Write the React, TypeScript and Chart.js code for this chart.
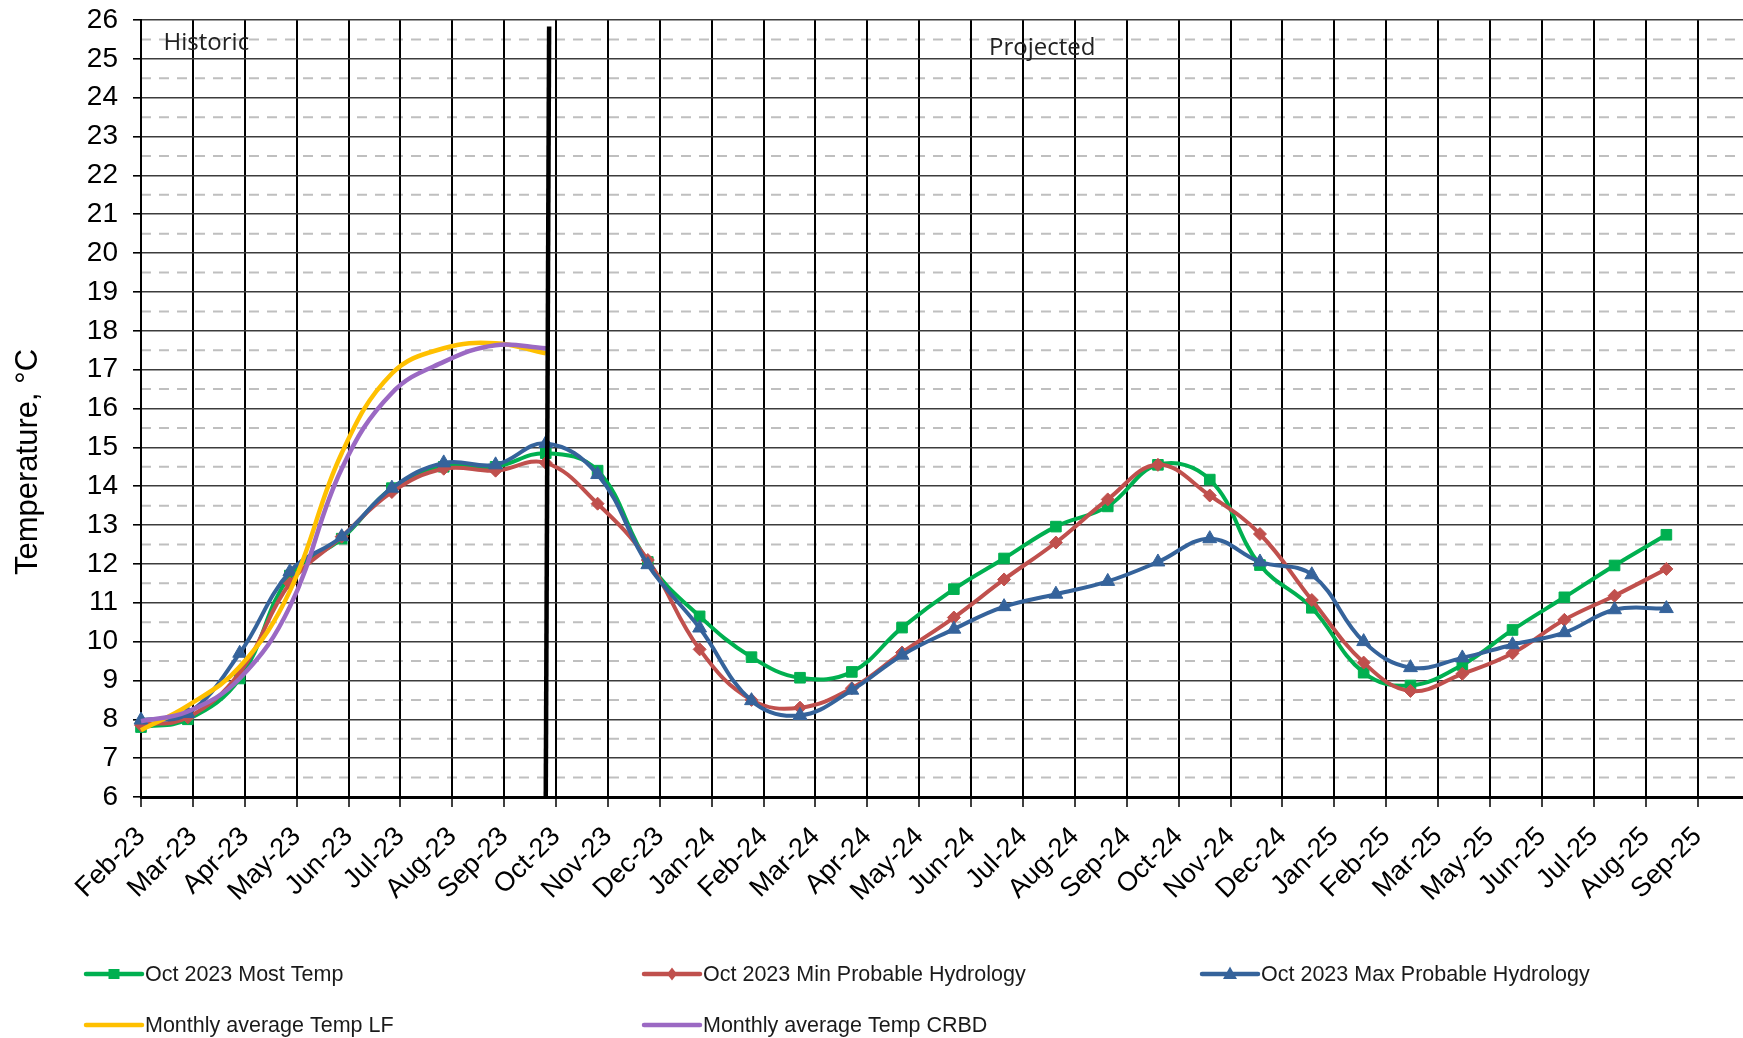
import React, { useEffect, useRef } from 'react';
import { Chart, registerables } from 'chart.js';

Chart.register(...registerables);

// ---------- data ----------
const tickLabels = [
  'Feb-23', 'Mar-23', 'Apr-23', 'May-23', 'Jun-23', 'Jul-23', 'Aug-23', 'Sep-23', 'Oct-23', 'Nov-23',
  'Dec-23', 'Jan-24', 'Feb-24', 'Mar-24', 'Apr-24', 'May-24', 'Jun-24', 'Jul-24', 'Aug-24', 'Sep-24',
  'Oct-24', 'Nov-24', 'Dec-24', 'Jan-25', 'Feb-25', 'Mar-25', 'May-25', 'Jun-25', 'Jul-25', 'Aug-25', 'Sep-25',
];

const months = [
  '2023-02', '2023-03', '2023-04', '2023-05', '2023-06', '2023-07', '2023-08', '2023-09', '2023-10', '2023-11',
  '2023-12', '2024-01', '2024-02', '2024-03', '2024-04', '2024-05', '2024-06', '2024-07', '2024-08', '2024-09',
  '2024-10', '2024-11', '2024-12', '2025-01', '2025-02', '2025-03', '2025-04', '2025-05', '2025-06', '2025-07', '2025-08',
];

const mostTemp = [
  7.8, 8.0, 9.05, 11.7, 12.65, 13.95, 14.5, 14.5, 14.85, 14.4,
  12.05, 10.65, 9.6, 9.07, 9.22, 10.36, 11.35, 12.14, 12.96, 13.48,
  14.55, 14.17, 11.97, 10.87, 9.2, 8.87, 9.4, 10.3, 11.14, 11.96, 12.75,
];

const minProbable = [
  7.85, 8.05, 9.2, 11.5, 12.7, 13.85, 14.45, 14.4, 14.6, 13.55,
  12.1, 9.8, 8.5, 8.3, 8.8, 9.72, 10.62, 11.6, 12.55, 13.66,
  14.55, 13.76, 12.77, 11.07, 9.46, 8.73, 9.17, 9.7, 10.56, 11.18, 11.87,
];

const maxProbable = [
  7.98, 8.15, 9.7, 11.8, 12.7, 13.95, 14.6, 14.55, 15.1, 14.3,
  11.98, 10.35, 8.48, 8.1, 8.75, 9.65, 10.32, 10.9, 11.22, 11.55,
  12.05, 12.65, 12.05, 11.72, 10.0, 9.33, 9.58, 9.92, 10.23, 10.82, 10.85,
];

const histMonths = ['2023-02', '2023-03', '2023-04', '2023-05', '2023-06', '2023-07', '2023-08', '2023-09', '2023-10'];
const avgTempLF = [7.72, 8.35, 9.35, 11.3, 14.85, 16.9, 17.55, 17.68, 17.42];
const avgTempCRBD = [7.95, 8.2, 9.05, 10.9, 14.45, 16.4, 17.2, 17.63, 17.55];

// historic / projected divider (date, temperature)
const dividerDates = ['2023-10-03', '2023-10-01'];
const dividerTemps = [25.83, 6];

// ---------- helpers ----------
const START = Date.UTC(2023, 1, 1);
const DAY = 86400000;
const dayOf = (s: string) => {
  const p = s.split('-').map(Number);
  return (Date.UTC(p[0], p[1] - 1, p[2] || 1) - START) / DAY;
};
const TICK_DAYS = 31.02;
const X_MAX = 957.8;

const GREEN = '#00B050';
const RED = '#C0504D';
const BLUE = '#35639B';
const YELLOW = '#FFC000';
const PURPLE = '#9B69C3';

const FONT = "'Liberation Sans', Arial, sans-serif";

const series = (xs: string[], ys: number[]) => ys.map((y, i) => ({ x: dayOf(xs[i]), y }));

const legendCols = [86, 644, 1202];
const legendRows = [974, 1025];

const drawMarker = (ctx: CanvasRenderingContext2D, style: string, x: number, y: number, color: string) => {
  ctx.fillStyle = color;
  ctx.beginPath();
  if (style === 'rect') {
    ctx.rect(x - 5.5, y - 5, 11, 10);
  } else if (style === 'rectRot') {
    ctx.moveTo(x, y - 6.5);
    ctx.lineTo(x + 5, y);
    ctx.lineTo(x, y + 6.5);
    ctx.lineTo(x - 5, y);
    ctx.closePath();
  } else if (style === 'triangle') {
    ctx.moveTo(x, y - 7.5);
    ctx.lineTo(x + 7, y + 5);
    ctx.lineTo(x - 7, y + 5);
    ctx.closePath();
  }
  ctx.fill();
};

const decorPlugin = {
  id: 'decor',
  beforeDraw(chart: any) {
    const { ctx, chartArea, scales } = chart;
    const y = scales.y;
    ctx.save();
    ctx.strokeStyle = '#BFBFBF';
    ctx.lineWidth = 2;
    ctx.setLineDash([10, 8]);
    for (let v = y.min + 0.5; v < y.max; v += 1) {
      const py = y.getPixelForValue(v);
      ctx.beginPath();
      ctx.moveTo(chartArea.left, py);
      ctx.lineTo(chartArea.right, py);
      ctx.stroke();
    }
    ctx.restore();
  },
  afterDraw(chart: any) {
    const { ctx, scales } = chart;
    const x = scales.x;
    const y = scales.y;
    ctx.save();
    // annotations
    ctx.fillStyle = '#222';
    ctx.font = "24px 'Open Sans', sans-serif";
    ctx.textBaseline = 'alphabetic';
    ctx.textAlign = 'left';
    ctx.fillText('Historic', x.getPixelForValue(13.5), y.getPixelForValue(25.23));
    ctx.fillText('Projected', x.getPixelForValue(507), y.getPixelForValue(25.1));

    // y-axis title
    ctx.save();
    ctx.translate(28, 462);
    ctx.rotate(-Math.PI / 2);
    ctx.textAlign = 'center';
    ctx.textBaseline = 'middle';
    ctx.fillStyle = '#000';
    ctx.font = `31px ${FONT}`;
    ctx.fillText('Temperature, °C', 0, 0);
    ctx.restore();

    // legend
    const items = chart.data.datasets.filter((d: any) => !d.hideInLegend);
    ctx.font = `21.5px ${FONT}`;
    ctx.textBaseline = 'middle';
    items.forEach((d: any, i: number) => {
      const lx = legendCols[i % 3];
      const ly = legendRows[Math.floor(i / 3)];
      ctx.strokeStyle = d.borderColor;
      ctx.lineWidth = 4.5;
      ctx.lineCap = 'round';
      ctx.setLineDash([]);
      ctx.beginPath();
      ctx.moveTo(lx, ly);
      ctx.lineTo(lx + 56, ly);
      ctx.stroke();
      if (d.pointRadius > 0) drawMarker(ctx, d.pointStyle, lx + 28, ly, d.borderColor);
      ctx.fillStyle = '#1a1a1a';
      ctx.fillText(d.label, lx + 59, ly + 1);
    });
    ctx.restore();
  },
};

export default function App() {
  const ref = useRef<HTMLCanvasElement>(null);

  useEffect(() => {
    document.body.style.margin = '0';
    const canvas = ref.current;
    if (!canvas) return;
    const lineBase = {
      tension: 0.4,
      borderWidth: 4,
      clip: false as any,
      pointBorderWidth: 1,
    };
    const chart = new Chart(canvas, {
      type: 'line',
      data: {
        datasets: [
          {
            ...lineBase,
            label: 'Oct 2023 Most Temp',
            data: series(months, mostTemp),
            borderColor: GREEN,
            backgroundColor: GREEN,
            pointBackgroundColor: GREEN,
            pointStyle: 'rect',
            pointRadius: 7.5,
            order: 5,
          },
          {
            ...lineBase,
            label: 'Oct 2023 Min Probable Hydrology',
            data: series(months, minProbable),
            borderColor: RED,
            backgroundColor: RED,
            pointBackgroundColor: RED,
            pointStyle: 'rectRot',
            pointRadius: 6.5,
            order: 4,
          },
          {
            ...lineBase,
            label: 'Oct 2023 Max Probable Hydrology',
            data: series(months, maxProbable),
            borderColor: BLUE,
            backgroundColor: BLUE,
            pointBackgroundColor: BLUE,
            pointStyle: 'triangle',
            pointRadius: 8,
            order: 3,
          },
          {
            ...lineBase,
            label: 'Monthly average Temp LF',
            data: series(histMonths, avgTempLF),
            borderColor: YELLOW,
            backgroundColor: YELLOW,
            borderWidth: 4.5,
            pointRadius: 0,
            order: 2,
          },
          {
            ...lineBase,
            label: 'Monthly average Temp CRBD',
            data: series(histMonths, avgTempCRBD),
            borderColor: PURPLE,
            backgroundColor: PURPLE,
            borderWidth: 4.5,
            pointRadius: 0,
            order: 1,
          },
          {
            label: 'divider',
            hideInLegend: true,
            data: series(dividerDates, dividerTemps),
            borderColor: '#000',
            borderWidth: 4.5,
            pointRadius: 0,
            tension: 0,
            clip: false as any,
            order: 0,
          } as any,
        ],
      },
      options: {
        animation: false,
        responsive: false,
        layout: { autoPadding: false, padding: { top: 20, left: 0, right: 0, bottom: 0 } },
        plugins: {
          legend: { display: false },
          tooltip: { enabled: false },
        },
        scales: {
          x: {
            type: 'linear',
            min: 0,
            max: X_MAX,
            afterBuildTicks: (scale: any) => {
              scale.ticks = tickLabels.map((_, i) => ({ value: i * TICK_DAYS }));
            },
            afterFit: (scale: any) => {
              scale.height = 241;
              scale.paddingLeft = 0;
              scale.paddingRight = 0;
            },
            ticks: {
              autoSkip: false,
              maxRotation: 45,
              minRotation: 45,
              padding: 14,
              color: '#000',
              font: { family: FONT, size: 27 },
              callback: (_v: any, i: number) => tickLabels[i],
            },
            grid: { color: '#000', lineWidth: 2, tickLength: 10, tickColor: '#000', tickWidth: 1.5 },
            border: { color: '#000', width: 3 },
          },
          y: {
            min: 6,
            max: 26,
            afterFit: (scale: any) => {
              scale.width = 141;
              scale.paddingTop = 0;
              scale.paddingBottom = 0;
            },
            ticks: {
              stepSize: 1,
              padding: 15,
              color: '#000',
              font: { family: FONT, size: 28 },
            },
            grid: { color: '#3c3c3c', lineWidth: 1.6, tickLength: 8, tickColor: '#000' },
            border: { color: '#000', width: 2 },
          },
        },
      },
      plugins: [decorPlugin],
    } as any);
    return () => chart.destroy();
  }, []);

  return (
    <div style={{ width: 1743, height: 1038, position: 'relative', background: '#fff' }}>
      <canvas ref={ref} width={1743} height={1038} style={{ display: 'block' }} />
    </div>
  );
}
